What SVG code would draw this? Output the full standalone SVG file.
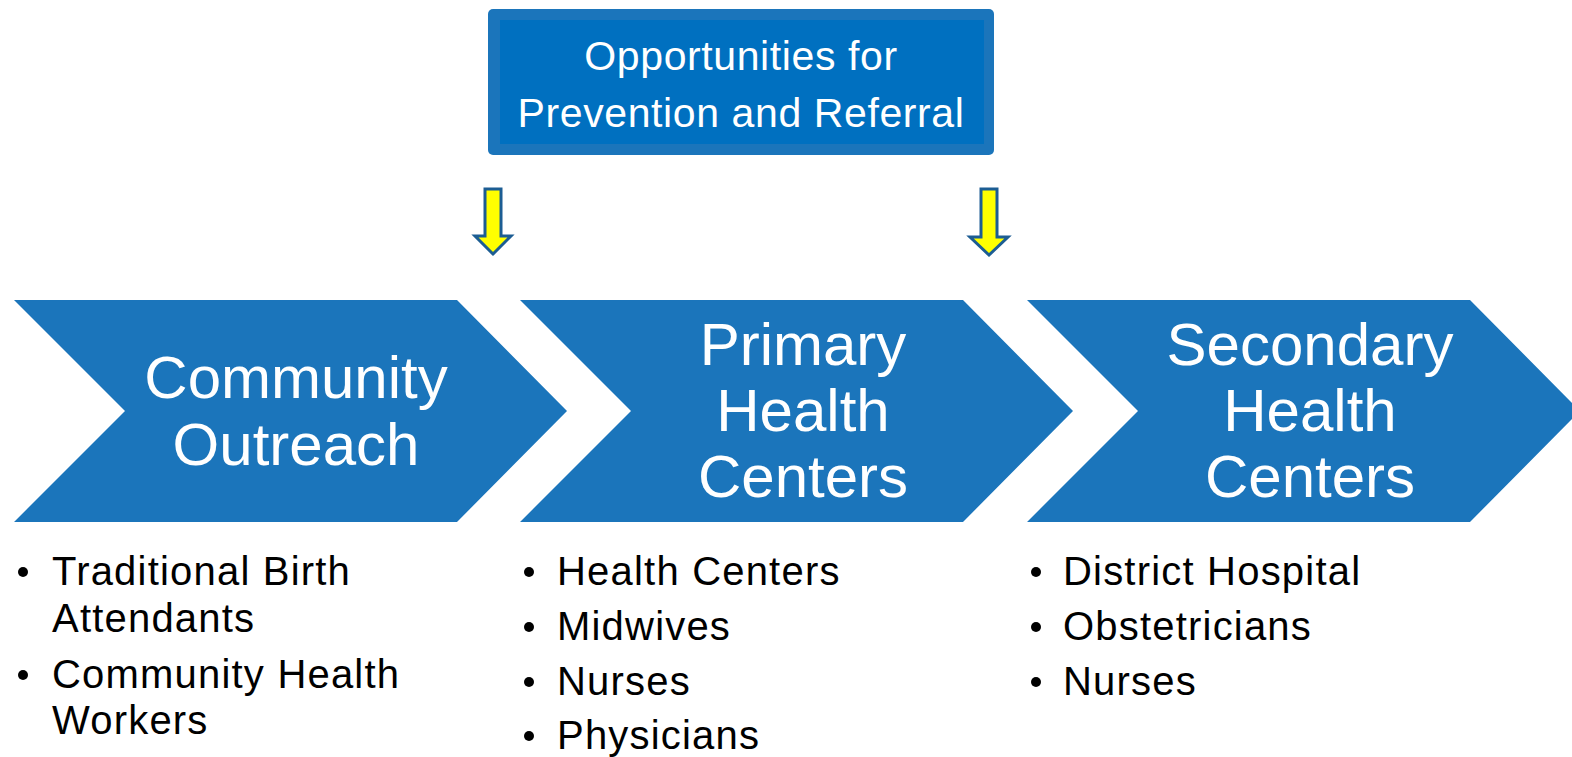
<svg xmlns="http://www.w3.org/2000/svg" width="1572" height="757" viewBox="0 0 1572 757">
  <style>
    .chev { fill: #1b75bb; }
    .title { font-family: "Liberation Sans", Arial, sans-serif; font-size: 60px; fill: #ffffff; text-anchor: middle; }
    .banner { font-family: "Liberation Sans", Arial, sans-serif; font-size: 41px; letter-spacing: 0.6px; fill: #ffffff; text-anchor: middle; }
    .item { font-family: "Liberation Sans", Arial, sans-serif; font-size: 40px; letter-spacing: 1.2px; fill: #000000; }
    .dot { fill: #000000; }
    .pointer { fill: #ffff00; stroke: #1c5d93; stroke-width: 3; stroke-linejoin: miter; }
  </style>

  <rect width="1572" height="757" fill="#ffffff"/>

  <!-- banner box -->
  <g id="banner">
    <rect x="488" y="9" width="506" height="146" rx="5" fill="#1b75bb"/>
    <rect x="500" y="20" width="484" height="124" fill="#0070c0"/>
    <text class="banner" x="741" y="70">Opportunities for</text>
    <text class="banner" x="741" y="127">Prevention and Referral</text>
  </g>

  <!-- down pointers -->
  <g id="connectors">
    <path class="pointer" d="M485,189 H501 V236 H511 L493,254 L475,236 H485 Z"/>
    <path class="pointer" d="M981,189 H997 V237 H1008 L989,255 L970,237 H981 Z"/>
  </g>

  <!-- stage 1 -->
  <g id="community-outreach">
    <polygon class="chev" points="14,300 457,300 567,411 457,522 14,522 125,411"/>
    <text class="title" x="296" y="398">Community</text>
    <text class="title" x="296" y="465">Outreach</text>
  </g>

  <!-- stage 2 -->
  <g id="primary-health-centers">
    <polygon class="chev" points="520,300 963,300 1073,411 963,522 520,522 631,411"/>
    <text class="title" x="803" y="365">Primary</text>
    <text class="title" x="803" y="431">Health</text>
    <text class="title" x="803" y="497">Centers</text>
  </g>

  <!-- stage 3 -->
  <g id="secondary-health-centers">
    <polygon class="chev" points="1027,300 1470,300 1580,411 1470,522 1027,522 1138,411"/>
    <text class="title" x="1310" y="365">Secondary</text>
    <text class="title" x="1310" y="431">Health</text>
    <text class="title" x="1310" y="497">Centers</text>
  </g>

  <!-- stage 1 list -->
  <g id="list-community">
    <circle class="dot" cx="23" cy="572" r="5"/>
    <text class="item" x="52" y="585">Traditional Birth</text>
    <text class="item" x="52" y="632">Attendants</text>
    <circle class="dot" cx="23" cy="675" r="5"/>
    <text class="item" x="52" y="688">Community Health</text>
    <text class="item" x="52" y="734">Workers</text>
  </g>

  <!-- stage 2 list -->
  <g id="list-primary">
    <circle class="dot" cx="529" cy="572" r="5"/>
    <text class="item" x="557" y="585">Health Centers</text>
    <circle class="dot" cx="529" cy="627" r="5"/>
    <text class="item" x="557" y="640">Midwives</text>
    <circle class="dot" cx="529" cy="682" r="5"/>
    <text class="item" x="557" y="695">Nurses</text>
    <circle class="dot" cx="529" cy="736" r="5"/>
    <text class="item" x="557" y="749">Physicians</text>
  </g>

  <!-- stage 3 list -->
  <g id="list-secondary">
    <circle class="dot" cx="1036" cy="572" r="5"/>
    <text class="item" x="1063" y="585">District Hospital</text>
    <circle class="dot" cx="1036" cy="627" r="5"/>
    <text class="item" x="1063" y="640">Obstetricians</text>
    <circle class="dot" cx="1036" cy="682" r="5"/>
    <text class="item" x="1063" y="695">Nurses</text>
  </g>
</svg>
